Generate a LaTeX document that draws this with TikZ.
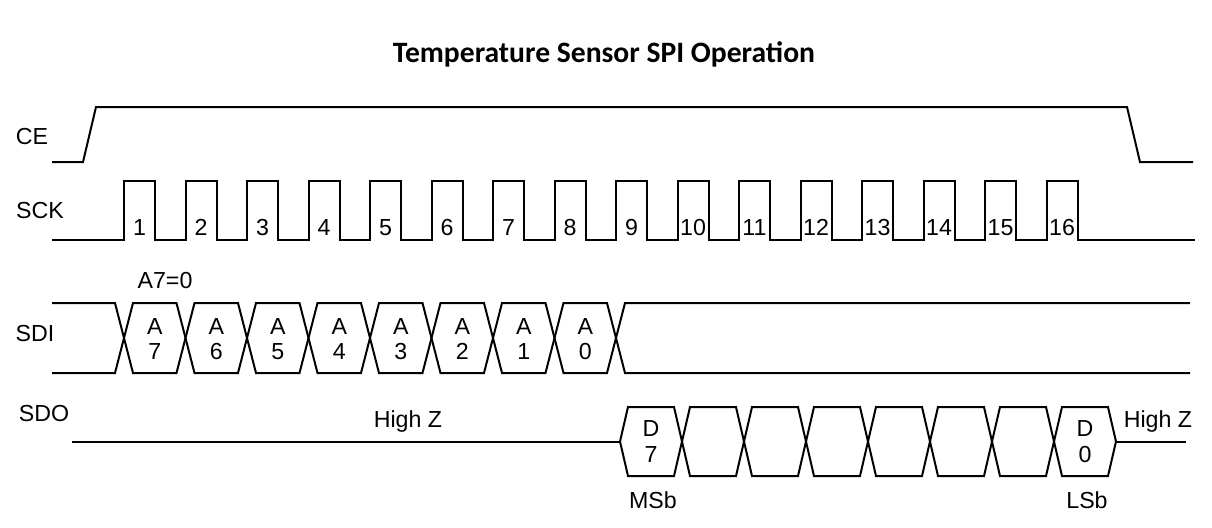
\documentclass[tikz,border=0pt]{standalone}
\usepackage{fontspec}
\setmainfont{Liberation Sans}
\newfontfamily\titlefont{Carlito}
\usetikzlibrary{positioning}

\begin{document}
\begin{tikzpicture}[
    x=0.5pt, y=-0.5pt,
    wave/.style={line width=1pt, line join=miter},
    sig/.style={font=\fontsize{11.6}{13}\selectfont, anchor=base},
    bit/.style={font=\fontsize{11.6}{13}\selectfont, anchor=base}
]
\useasboundingbox (0,0) rectangle (1212,527);

\node[anchor=base, font=\titlefont\bfseries\fontsize{14.8}{17}\selectfont] (title) at (604,62) {Temperature Sensor SPI Operation};

% signal names
\node[sig] (ce) at (32,144) {CE};
\node[sig] (sck) at (40,218) {SCK};
\node[sig] (sdi) at (35,341) {SDI};
\node[sig] (sdo) at (44,421) {SDO};

% CE
\draw[wave] (52,162) -- (83,162) -- (96,107) -- (1127,107) -- (1140,162) -- (1193,162);

% SCK
\draw[wave] (52,240) foreach \k [evaluate=\k as \r using 124+61.5*\k] in {0,...,15} {
    -- (\r,240) -- (\r,181) -- (\r+31,181) -- (\r+31,240) } -- (1195,240);
\foreach \k [count=\n, evaluate=\k as \r using 124+61.5*\k] in {0,...,15}
    \node[bit] (clk\n) at (\r+15.5,235) {\n};

% SDI
\node[bit] (a7zero) at (165,288) {A7=0};
\draw[wave] (52,303) -- (115,303) -- (124,338) -- (115,373) -- (52,373);
\foreach \k [evaluate=\k as \c using 124+61.5*\k, evaluate=\k as \b using int(7-\k)] in {0,...,7} {
    \draw[wave] (\c,338) -- (\c+9,303) -- (\c+52.5,303) -- (\c+61.5,338) -- (\c+52.5,373) -- (\c+9,373) -- cycle;
    \node[bit] (addr\b) at (\c+30.75,334) {A};
    \node[bit] (addrno\b) at (\c+30.75,359) {\b};
}
\draw[wave] (1190,303) -- (625,303) -- (616,338) -- (625,373) -- (1190,373);

% SDO
\draw[wave] (72,441.5) -- (620,441.5);
\foreach \k in {0,...,7}
    \draw[wave] (620+62*\k,441.5) -- ++(8,-34.5) -- ++(46,0) -- ++(8,34.5) -- ++(-8,34.5) -- ++(-46,0) -- cycle;
\draw[wave] (1116,441.5) -- (1186,441.5);

\node[bit] (d7) at (651,436) {D};
\node[bit] (d7no) at (651,462) {7};
\node[bit] (d0) at (1085,436) {D};
\node[bit] (d0no) at (1085,462) {0};
\node[bit] (msb) at (653,508) {MSb};
\node[bit] (lsb) at (1087,508) {LSb};
\node[bit] (hiz) at (408,427) {High Z};
\node[bit] (hizend) at (1158,427) {High Z};
\end{tikzpicture}
\end{document}
